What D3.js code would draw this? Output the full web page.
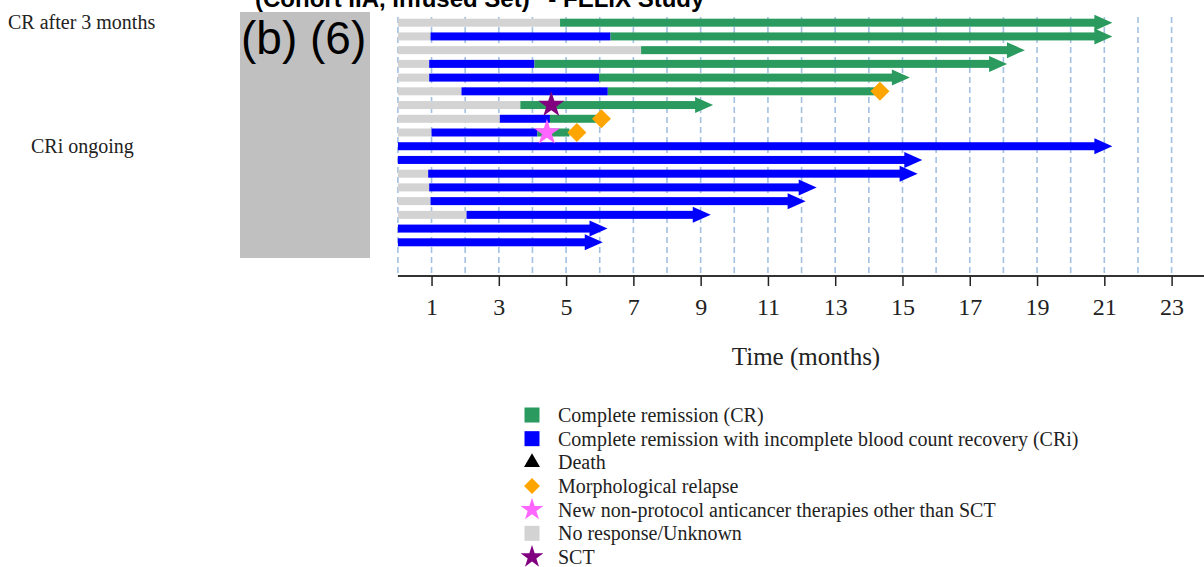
<!DOCTYPE html>
<html>
<head>
<meta charset="utf-8">
<script src="https://cdn.jsdelivr.net/npm/d3@7"></script>
<style>
  html, body { margin: 0; padding: 0; background: #fff; }
  svg { display: block; }
</style>
</head>
<body>
<svg id="chart" width="1204" height="567"></svg>
<script>
// ---------- data (months) ----------
const patients = d3.range(1, 18);
// end of "no response/unknown" phase for each patient
const noRespEnd = [4.82, 0.97, 7.23, 0.93, 0.93, 1.89, 3.64, 3.03, 1.00, 0, 0, 0.90, 0.93, 0.97, 2.04, 0, 0];
// end of CRi phase (null = none)
const criEnd = [null, 6.32, null, 4.06, 5.98, 6.24, null, 4.52, 4.15, 21.24, 15.59, 15.45, 12.45, 12.12, 9.30, 6.23, 6.09];
// end of CR phase (null = none)
const crEnd = [21.24, 21.24, 18.64, 18.11, 15.22, 14.33, 9.37, 5.90, 5.10, null, null, null, null, null, null, null, null];
// ongoing response (arrow)
const ongoing = [1, 1, 1, 1, 1, 0, 1, 0, 0, 1, 1, 1, 1, 1, 1, 1, 1];
// events
const relapsePatients = [6, 8, 9];
const relapseTimes = [14.33, 6.05, 5.32];
const sctPatients = [7];
const sctTimes = [4.56];
const newTherapyPatients = [9];
const newTherapyTimes = [4.43];
const groupLabels = ["CR after 3 months", "CRi ongoing"];
const tickValues = [1, 3, 5, 7, 9, 11, 13, 15, 17, 19, 21, 23];
const gridMonths = d3.range(0, 24);
const legendLabels = [
  "Complete remission (CR)",
  "Complete remission with incomplete blood count recovery (CRi)",
  "Death",
  "Morphological relapse",
  "New non-protocol anticancer therapies other than SCT",
  "No response/Unknown",
  "SCT"
];

// ---------- styles ----------
const C = {
  cr: "#2a9a5e", cri: "#0000ff", nr: "#d3d3d3", relapse: "#ffa500",
  newTx: "#ff66ff", sct: "#800080", death: "#000000", grid: "#a3c0e2"
};
const serif = "'Liberation Serif', 'Times New Roman', serif";
const sans = "'Liberation Sans', Arial, sans-serif";

const svg = d3.select("#chart");
const x = d3.scaleLinear().domain([0, 23]).range([397.9, 1171.6]);
const y = d3.scalePoint().domain(patients).range([22.7, 242.3]);
const barH = 8, headL = 18, headH = 16;
const axisY = 276;

// title (partly cut at top)
svg.append("text").attr("x", 255).attr("y", 7)
  .attr("font-family", sans).attr("font-weight", "bold").attr("font-size", 24)
  .text("(Cohort IIA, Infused Set)\u201D - FELIX Study");

// gridlines
svg.append("g").selectAll("line").data(gridMonths).join("line")
  .attr("x1", d => x(d)).attr("x2", d => x(d))
  .attr("y1", 17).attr("y2", axisY)
  .attr("stroke", C.grid).attr("stroke-width", 1.6)
  .attr("stroke-dasharray", "6,4");

// bars
const bars = svg.append("g");
patients.forEach((p, i) => {
  const segs = [];
  let start = 0;
  if (noRespEnd[i] > 0) { segs.push([0, noRespEnd[i], C.nr]); start = noRespEnd[i]; }
  if (criEnd[i] != null) { segs.push([start, criEnd[i], C.cri]); start = criEnd[i]; }
  if (crEnd[i] != null) { segs.push([start, crEnd[i], C.cr]); start = crEnd[i]; }
  const last = segs[segs.length - 1];
  const cy = y(p);
  segs.forEach((s, k) => {
    const x0 = x(s[0]);
    let x1 = x(s[1]);
    if (k === segs.length - 1 && ongoing[i]) x1 -= headL - 1;
    bars.append("rect").attr("x", x0).attr("y", cy - barH / 2)
      .attr("width", Math.max(0, x1 - x0)).attr("height", barH).attr("fill", s[2]);
  });
  if (ongoing[i]) {
    const tip = x(last[1]);
    bars.append("path")
      .attr("d", `M${tip - headL},${cy - headH / 2}L${tip},${cy}L${tip - headL},${cy + headH / 2}Z`)
      .attr("fill", last[2]);
  }
});

// events
const diamond = d3.symbol().type(d3.symbolDiamond2).size(230);
const star = d3.symbol().type(d3.symbolStar).size(210);
const ev = svg.append("g");
sctPatients.forEach((p, k) => ev.append("path").attr("d", star)
  .attr("transform", `translate(${x(sctTimes[k])},${y(p)})`).attr("fill", C.sct));
newTherapyPatients.forEach((p, k) => ev.append("path").attr("d", star)
  .attr("transform", `translate(${x(newTherapyTimes[k])},${y(p)})`).attr("fill", C.newTx));
relapsePatients.forEach((p, k) => ev.append("path").attr("d", diamond)
  .attr("transform", `translate(${x(relapseTimes[k])},${y(p)})`).attr("fill", C.relapse));

// axis
const axis = svg.append("g").attr("transform", `translate(0,${axisY})`)
  .call(d3.axisBottom(x).tickValues(tickValues).tickSize(10).tickPadding(12).tickSizeOuter(0));
axis.select(".domain").attr("d", `M${x(0)},0H1204`).attr("stroke", "#333").attr("stroke-width", 2);
axis.selectAll(".tick line").attr("stroke", "#222").attr("stroke-width", 1.5);
axis.selectAll(".tick text").attr("font-family", serif).attr("font-size", 24).attr("fill", "#222");

svg.append("text").attr("x", 806).attr("y", 365).attr("text-anchor", "middle")
  .attr("font-family", serif).attr("font-size", 25).attr("fill", "#222")
  .text("Time (months)");

// left group labels
svg.append("text").attr("x", 8).attr("y", 29).attr("font-family", serif)
  .attr("font-size", 20).attr("fill", "#222").text(groupLabels[0]);
svg.append("text").attr("x", 31).attr("y", 153).attr("font-family", serif)
  .attr("font-size", 20).attr("fill", "#222").text(groupLabels[1]);

// redaction box
svg.append("rect").attr("x", 240).attr("y", 12).attr("width", 130).attr("height", 246).attr("fill", "#c0c0c0");
svg.append("text").attr("x", 241).attr("y", 54).attr("font-family", sans)
  .attr("font-size", 46).attr("fill", "#000").text("(b) (6)");

// legend
const legY = d3.scalePoint().domain(legendLabels).range([415, 557]);
const lg = svg.append("g");
const legendSyms = [
  g => g.append("rect").attr("x", -7.5).attr("y", -7.5).attr("width", 15).attr("height", 15).attr("fill", C.cr),
  g => g.append("rect").attr("x", -7.5).attr("y", -7.5).attr("width", 15).attr("height", 15).attr("fill", C.cri),
  g => g.append("path").attr("d", d3.symbol().type(d3.symbolTriangle).size(110)).attr("fill", C.death),
  g => g.append("path").attr("d", d3.symbol().type(d3.symbolDiamond2).size(160)).attr("fill", C.relapse),
  g => g.append("path").attr("d", d3.symbol().type(d3.symbolStar).size(160)).attr("fill", C.newTx),
  g => g.append("rect").attr("x", -7.5).attr("y", -7.5).attr("width", 15).attr("height", 15).attr("fill", C.nr),
  g => g.append("path").attr("d", d3.symbol().type(d3.symbolStar).size(160)).attr("fill", C.sct)
];
legendLabels.forEach((lab, k) => {
  const g = lg.append("g").attr("transform", `translate(532,${legY(lab)})`);
  legendSyms[k](g);
  lg.append("text").attr("x", 558).attr("y", legY(lab)).attr("dy", "0.35em")
    .attr("font-family", serif).attr("font-size", 20).attr("fill", "#222").text(lab);
});
</script>
</body>
</html>
